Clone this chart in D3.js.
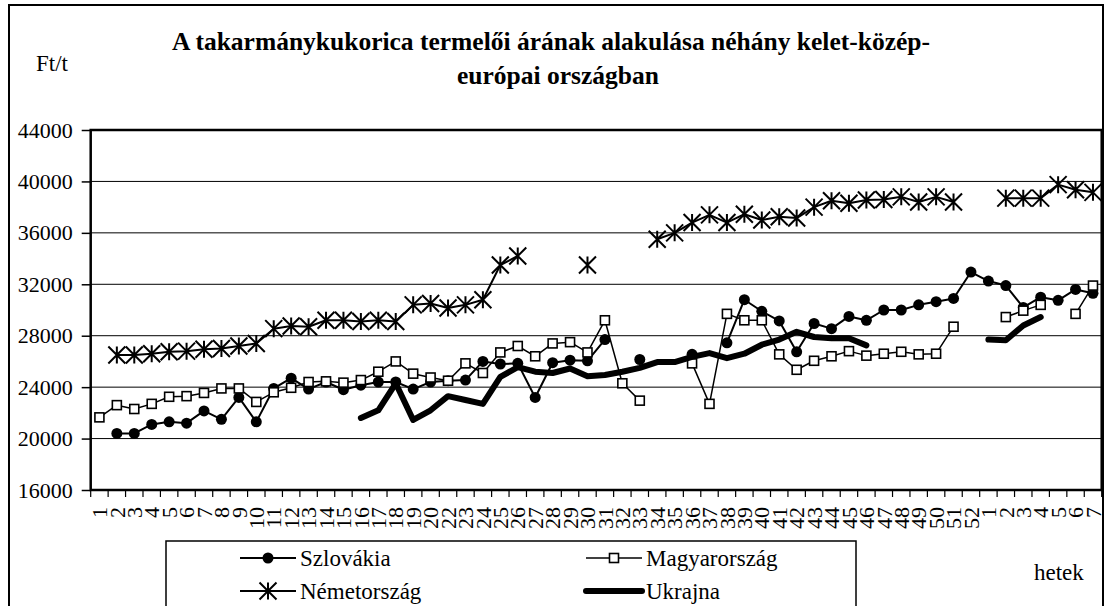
<!DOCTYPE html>
<html>
<head>
<meta charset="utf-8">
<script src="https://cdn.jsdelivr.net/npm/d3@7"></script>
<style>
  body { margin: 0; background: #fff; }
  svg, svg text { font-family: 'Liberation Serif', 'Times New Roman', Tinos, 'DejaVu Serif', serif !important; }
</style>
</head>
<body>
<div id="chart"></div>
<script>
// week labels (week 21 is missing in the source)
const weekLabels = ["1","2","3","4","5","6","7","8","9","10","11","12","13","14","15","16","17","18","19","20",
  "22","23","24","25","26","27","28","29","30","31","32","33","34","35","36","37","38","39","40","41",
  "42","43","44","45","46","47","48","49","50","51","52","1","2","3","4","5","6","7"];

const yTicks = [16000, 20000, 24000, 28000, 32000, 36000, 40000, 44000];

const szlovakia = [null,20400,20400,21100,21300,21200,22150,21500,23200,21300,
  23900,24700,23850,24400,23800,24150,24400,24400,23850,24400,
  24500,24550,26000,25800,25850,23200,25900,26100,26050,27700,
  null,26150,null,null,26550,null,27450,30800,29900,29150,
  26750,28950,28550,29500,29200,30000,30000,30400,30650,30900,
  32950,32250,31900,30200,31000,30750,31600,31300];

const magyarorszag = [21650,22600,22300,22700,23250,23300,23550,23900,23900,22850,
  23600,23950,24400,24450,24350,24550,25200,26000,25050,24750,
  24500,25850,25100,26700,27200,26400,27400,27500,26700,29200,
  24300,22950,null,null,25850,22700,29700,29200,29200,26550,
  25350,26050,26400,26800,26450,26600,26750,26550,26600,28700,
  null,null,29450,29950,30400,null,29700,31900];

const nemetorszag = [null,26500,26500,26600,26750,26800,26950,27000,27200,27400,
  28550,28750,28700,29200,29200,29100,29200,29100,30400,30500,
  30150,30400,30800,33500,34200,null,null,null,33500,null,
  null,null,35500,36000,36800,37400,36800,37450,37000,37250,
  37150,38000,38500,38300,38550,38600,38800,38400,38800,38400,
  null,null,38700,38700,38700,39750,39350,39150];

const ukrajna = [null,null,null,null,null,null,null,null,null,null,
  null,null,null,null,null,21600,22200,24300,21450,22200,
  23300,23000,22700,24800,25550,25200,25100,25450,24850,24950,
  25200,25500,25950,25950,26350,26650,26250,26600,27300,27700,
  28300,27900,27800,27800,27250,null,null,null,null,null,
  null,27700,27650,28800,29450,null,null,null];

const margin = {top: 130, right: 3.3, bottom: 116, left: 90.7},
      width = 1105 - margin.left - margin.right,
      height = 606 - margin.top - margin.bottom;

const root = d3.select('#chart').append('svg')
    .attr('width', 1105)
    .attr('height', 606);

root.append('rect')
    .attr('width', 1105).attr('height', 606)
    .attr('fill', '#fff');

// outer frame
root.append('rect')
    .attr('x', 9).attr('y', 5)
    .attr('width', 1094).attr('height', 620)
    .attr('fill', 'none')
    .attr('stroke', '#000')
    .attr('stroke-width', 2);

// title
const title = root.append('text')
    .attr('text-anchor', 'middle')
    .style('font-weight', 'bold')
    .style('font-size', '25.5px');
title.append('tspan').attr('x', 551).attr('y', 50)
    .text('A takarmánykukorica termelői árának alakulása néhány kelet-közép-');
title.append('tspan').attr('x', 558).attr('y', 84)
    .text('európai országban');

root.append('text')
    .attr('x', 36).attr('y', 71)
    .style('font-size', '23px')
    .text('Ft/t');

const svg = root.append('g')
    .attr('transform', `translate(${margin.left}, ${margin.top})`);

// scales
const xScale = d3.scaleBand()
    .domain(d3.range(weekLabels.length))
    .range([0, width]);

const yScale = d3.scaleLinear()
    .domain([16000, 44000])
    .range([height, 0]);

const cx = i => xScale(i) + xScale.bandwidth() / 2;

// gridlines
svg.append('g')
    .selectAll('line')
    .data(yTicks.slice(1, -1))
    .join('line')
    .attr('x1', 0).attr('x2', width)
    .attr('y1', d => yScale(d)).attr('y2', d => yScale(d))
    .attr('stroke', '#000')
    .attr('stroke-width', 1);

// y axis
const yAxis = svg.append('g')
    .call(d3.axisLeft(yScale).tickValues(yTicks).tickFormat(d3.format('d')).tickSize(9).tickPadding(9))
    .attr('font-family', null);
yAxis.select('.domain').remove();
yAxis.selectAll('line').attr('stroke-width', 1.5);
yAxis.selectAll('text')
    .style('font-size', '22px')
    .attr('fill', '#000');

// x axis labels (rotated)
const xAxis = svg.append('g')
    .attr('transform', `translate(0, ${height})`)
    .call(d3.axisBottom(xScale).tickFormat(i => weekLabels[i]).tickSize(0))
    .attr('font-family', null);
xAxis.select('.domain').remove();
xAxis.selectAll('text')
    .attr('transform', 'rotate(-90)')
    .attr('x', -17)
    .attr('y', 0)
    .attr('dy', '0.35em')
    .style('text-anchor', 'end')
    .style('font-size', '22px')
    .attr('fill', '#000');

// x tick marks at category boundaries
const boundaries = d3.range(weekLabels.length + 1);
svg.append('g')
    .selectAll('line')
    .data(boundaries)
    .join('line')
    .attr('x1', i => i < weekLabels.length ? xScale(i) : xScale(i - 1) + xScale.bandwidth())
    .attr('x2', i => i < weekLabels.length ? xScale(i) : xScale(i - 1) + xScale.bandwidth())
    .attr('y1', height).attr('y2', height + 7)
    .attr('stroke', '#000')
    .attr('stroke-width', 1.2);

// plot border
svg.append('rect')
    .attr('width', width).attr('height', height)
    .attr('fill', 'none')
    .attr('stroke', '#000')
    .attr('stroke-width', 2.5);

// series
const line = d3.line()
    .defined(d => d != null)
    .x((d, i) => cx(i))
    .y(d => yScale(d));

const starPath = s => `M${-s},${-s}L${s},${s}M${s},${-s}L${-s},${s}M0,${-s}L0,${s}`;

function drawLine(values, strokeWidth) {
  svg.append('path')
      .datum(values)
      .attr('fill', 'none')
      .attr('stroke', '#000')
      .attr('stroke-width', strokeWidth)
      .attr('stroke-linejoin', 'round')
      .attr('stroke-linecap', 'round')
      .attr('d', line);
}

function points(values) {
  return values.map((v, i) => ({i, v})).filter(d => d.v != null);
}

// Szlovákia
drawLine(szlovakia, 2);
svg.append('g').selectAll('circle')
    .data(points(szlovakia))
    .join('circle')
    .attr('cx', d => cx(d.i)).attr('cy', d => yScale(d.v))
    .attr('r', 5.5)
    .attr('fill', '#000');

// Magyarország
drawLine(magyarorszag, 1.5);
svg.append('g').selectAll('rect')
    .data(points(magyarorszag))
    .join('rect')
    .attr('x', d => cx(d.i) - 4.5).attr('y', d => yScale(d.v) - 4.5)
    .attr('width', 9).attr('height', 9)
    .attr('fill', '#fff')
    .attr('stroke', '#000')
    .attr('stroke-width', 1.6);

// Németország
drawLine(nemetorszag, 2);
svg.append('g').selectAll('path')
    .data(points(nemetorszag))
    .join('path')
    .attr('transform', d => `translate(${cx(d.i)}, ${yScale(d.v)})`)
    .attr('d', starPath(8.5))
    .attr('stroke', '#000')
    .attr('stroke-width', 2)
    .attr('fill', 'none');

// Ukrajna
drawLine(ukrajna, 6);

// legend
const legend = root.append('g');
legend.append('rect')
    .attr('x', 166).attr('y', 541)
    .attr('width', 690).attr('height', 80)
    .attr('fill', '#fff')
    .attr('stroke', '#000')
    .attr('stroke-width', 1.5);

const legendItems = [
  {name: 'Szlovákia', x: 240, y: 558, type: 'circle', w: 2},
  {name: 'Magyarország', x: 586, y: 558, type: 'square', w: 1.5},
  {name: 'Németország', x: 240, y: 591, type: 'star', w: 2},
  {name: 'Ukrajna', x: 586, y: 591, type: 'none', w: 6}
];

legendItems.forEach(item => {
  const g = legend.append('g').attr('transform', `translate(${item.x}, ${item.y})`);
  g.append('line')
      .attr('x1', 0).attr('x2', 56)
      .attr('stroke', '#000')
      .attr('stroke-width', item.w)
      .attr('stroke-linecap', item.type === 'none' ? 'round' : 'butt');
  if (item.type === 'circle') {
    g.append('circle').attr('cx', 28).attr('r', 5.5).attr('fill', '#000');
  } else if (item.type === 'square') {
    g.append('rect').attr('x', 23.5).attr('y', -4.5).attr('width', 9).attr('height', 9)
        .attr('fill', '#fff').attr('stroke', '#000').attr('stroke-width', 1.6);
  } else if (item.type === 'star') {
    g.append('path').attr('transform', 'translate(28, 0)').attr('d', starPath(8.5))
        .attr('stroke', '#000').attr('stroke-width', 2);
  }
  g.append('text')
      .attr('x', 60).attr('dy', '0.35em')
      .style('font-size', '23px')
      .text(item.name);
});

root.append('text')
    .attr('x', 1034).attr('y', 572)
    .attr('dy', '0.35em')
    .style('font-size', '23px')
    .text('hetek');
</script>
</body>
</html>
